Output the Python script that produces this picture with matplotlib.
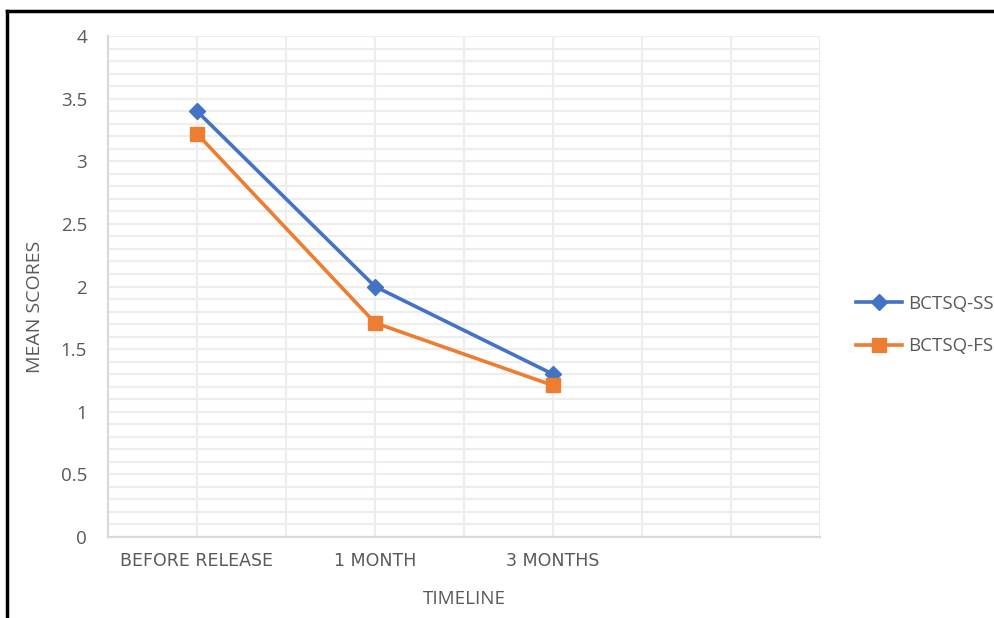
import matplotlib
matplotlib.use("Agg")
import matplotlib.pyplot as plt
from matplotlib.lines import Line2D
from matplotlib.ticker import MultipleLocator, FuncFormatter

# timeline categories and their slot on the category axis
categories = ["BEFORE RELEASE", "1 MONTH", "3 MONTHS"]
cat_pos = [1, 3, 5]

ss_scores = [3.4, 2.0, 1.3]
fs_scores = [3.22, 1.71, 1.21]

BLUE = "#4472C4"
ORANGE = "#ED7D31"
TEXT = "#595959"

plt.rcParams["font.family"] = ["Open Sans", "DejaVu Sans"]

fig = plt.figure(figsize=(9.94, 6.18), dpi=100)
ax = fig.add_axes([108 / 994, 1 - 537 / 618, 712 / 994, 501 / 618])

ax.plot(cat_pos, ss_scores, color=BLUE, lw=2.6, marker="D", ms=8,
        label="BCTSQ-SS", zorder=3)
ax.plot(cat_pos, fs_scores, color=ORANGE, lw=2.6, marker="s", ms=10,
        label="BCTSQ-FS", zorder=3)

ax.set_xlim(0, 8)
ax.set_ylim(0, 4)
ax.yaxis.set_major_locator(MultipleLocator(0.5))
ax.yaxis.set_minor_locator(MultipleLocator(0.1))
ax.yaxis.set_major_formatter(FuncFormatter(lambda v, p: f"{v:g}"))
ax.set_xticks(range(0, 9), minor=True)
ax.set_xticks(cat_pos)
ax.set_xticklabels(categories, fontfamily="DejaVu Sans", fontsize=12.5)

ax.grid(True, which="both", color="#EDEDED", lw=1.6)
ax.set_axisbelow(True)

for side in ["top", "right"]:
    ax.spines[side].set_visible(False)
for side in ["left", "bottom"]:
    ax.spines[side].set_color("#D9D9D9")
    ax.spines[side].set_linewidth(1.6)

ax.tick_params(which="both", length=0)
ax.tick_params(axis="y", labelsize=13.5, colors=TEXT, pad=15)
ax.tick_params(axis="x", colors=TEXT, pad=11)

ax.set_ylabel("MEAN SCORES", fontsize=14, color=TEXT, va="center", ha="center")
ax.set_xlabel("TIMELINE", fontsize=13.5, color=TEXT, va="center", ha="center")
ax.yaxis.set_label_coords(-73 / 712, 230 / 501)
ax.xaxis.set_label_coords(356 / 712, -62 / 501)

ax.legend(loc="center left", bbox_to_anchor=(848 / 994, 1 - 325 / 618),
          bbox_transform=fig.transFigure, frameon=False, borderaxespad=0,
          fontsize=13.5, labelcolor=TEXT, handlelength=2.5, handletextpad=0.3,
          labelspacing=1.3)

# frame lines along the top and left edge
fig.add_artist(Line2D([7 / 994, 7 / 994], [0, 1 - 11 / 618],
                      transform=fig.transFigure, color="black", lw=2.5))
fig.add_artist(Line2D([7 / 994, 1], [1 - 11 / 618, 1 - 11 / 618],
                      transform=fig.transFigure, color="black", lw=2.5))

fig.savefig("out.png", dpi=100)
